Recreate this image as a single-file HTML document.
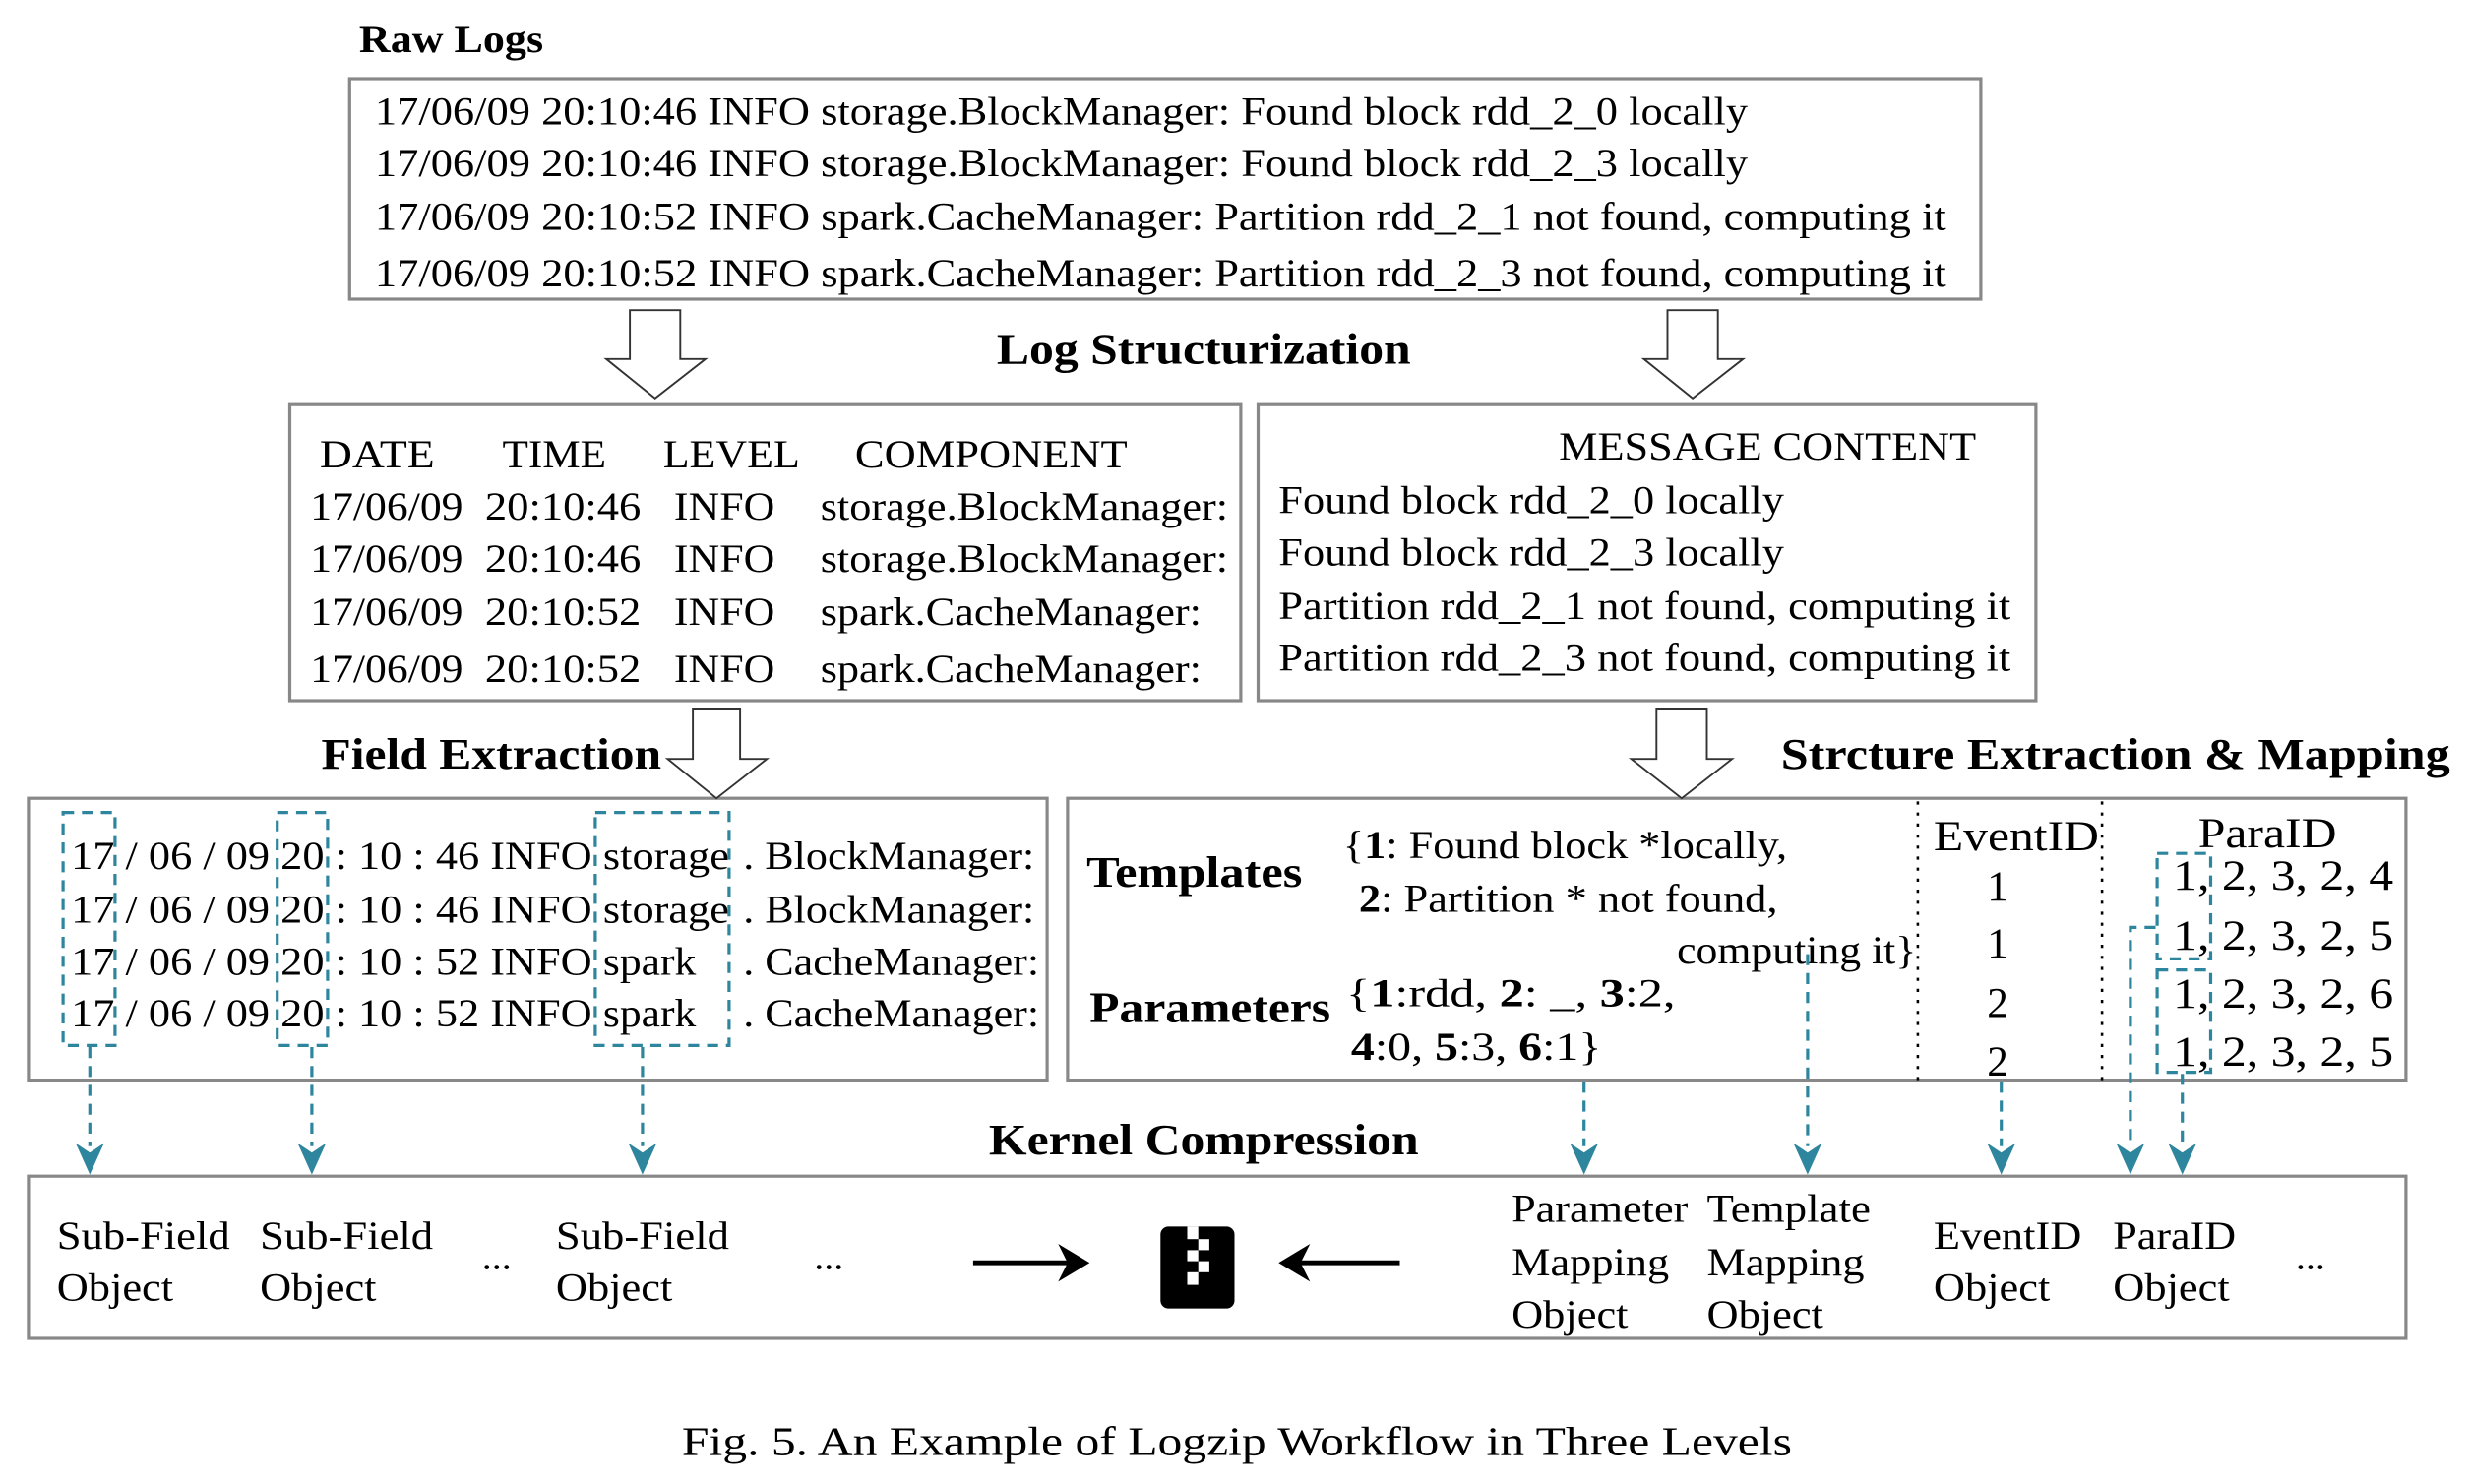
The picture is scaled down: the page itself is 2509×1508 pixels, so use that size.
<!DOCTYPE html>
<html><head><meta charset="utf-8"><style>
html,body{margin:0;padding:0;background:#fff;}
svg{display:block;}
text{font-family:"Liberation Serif",serif;fill:#000;}
.b{font-weight:bold;}
</style></head><body>
<svg width="2509" height="1508" viewBox="0 0 1568 942.5" xmlns="http://www.w3.org/2000/svg">
<defs>
<g id="ah"><polygon points="-9,-20 0,-14 9,-20 0,0" fill="#2e869e"/></g>
</defs>
<g fill="none" stroke="#888" stroke-width="2">
<rect x="222" y="50" width="1036" height="140"/>
<rect x="184" y="257" width="604" height="188"/>
<rect x="799" y="257" width="494" height="188"/>
<rect x="18" y="507" width="647" height="179"/>
<rect x="678" y="507" width="850" height="179"/>
<rect x="18" y="747" width="1510" height="103"/>
</g>
<!-- hollow arrows -->
<g fill="#fff" stroke="#333" stroke-width="1.2">
<polygon points="400,197 432,197 432,228 448,228 416,253 385,228 400,228"/>
<polygon points="1059,197 1091,197 1091,228 1107,228 1075,253 1044,228 1059,228"/>
<polygon points="440,450 470,450 470,482 487,482 455,507 424,482 440,482"/>
<polygon points="1052,450 1084,450 1084,482 1100,482 1068,507 1036,482 1052,482"/>
</g>
<!-- labels -->
<g class="b" font-size="25">
<text x="228" y="33" textLength="117" lengthAdjust="spacingAndGlyphs" font-weight="bold">Raw Logs</text>
<text x="633" y="231" textLength="263" lengthAdjust="spacingAndGlyphs" font-size="28" font-weight="bold">Log Structurization</text>
<text x="204" y="488" textLength="216" lengthAdjust="spacingAndGlyphs" font-size="28" font-weight="bold">Field Extraction</text>
<text x="1131" y="488" textLength="425" lengthAdjust="spacingAndGlyphs" font-size="28" font-weight="bold">Strcture Extraction &amp; Mapping</text>
<text x="628" y="733" textLength="273" lengthAdjust="spacingAndGlyphs" font-size="28" font-weight="bold">Kernel Compression</text>
<text x="690" y="563" textLength="137" lengthAdjust="spacingAndGlyphs" font-size="28" font-weight="bold">Templates</text>
<text x="692" y="649" textLength="153" lengthAdjust="spacingAndGlyphs" font-size="28" font-weight="bold">Parameters</text>
</g>
<g font-size="25" lengthAdjust="spacingAndGlyphs">
<text x="238" y="79" textLength="872" lengthAdjust="spacingAndGlyphs">17/06/09 20:10:46 INFO storage.BlockManager: Found block rdd_2_0 locally</text>
<text x="238" y="112" textLength="872" lengthAdjust="spacingAndGlyphs">17/06/09 20:10:46 INFO storage.BlockManager: Found block rdd_2_3 locally</text>
<text x="238" y="146" textLength="998" lengthAdjust="spacingAndGlyphs">17/06/09 20:10:52 INFO spark.CacheManager: Partition rdd_2_1 not found, computing it</text>
<text x="238" y="182" textLength="998" lengthAdjust="spacingAndGlyphs">17/06/09 20:10:52 INFO spark.CacheManager: Partition rdd_2_3 not found, computing it</text>

<text x="203" y="297" textLength="73" lengthAdjust="spacingAndGlyphs">DATE</text>
<text x="319" y="297" textLength="66" lengthAdjust="spacingAndGlyphs">TIME</text>
<text x="421" y="297" textLength="87" lengthAdjust="spacingAndGlyphs">LEVEL</text>
<text x="543" y="297" textLength="173" lengthAdjust="spacingAndGlyphs">COMPONENT</text>
<g>
<text x="197" y="330" textLength="97" lengthAdjust="spacingAndGlyphs">17/06/09</text><text x="308" y="330" textLength="99" lengthAdjust="spacingAndGlyphs">20:10:46</text><text x="428" y="330" textLength="64" lengthAdjust="spacingAndGlyphs">INFO</text><text x="521" y="330" textLength="259" lengthAdjust="spacingAndGlyphs">storage.BlockManager:</text>
<text x="197" y="363" textLength="97" lengthAdjust="spacingAndGlyphs">17/06/09</text><text x="308" y="363" textLength="99" lengthAdjust="spacingAndGlyphs">20:10:46</text><text x="428" y="363" textLength="64" lengthAdjust="spacingAndGlyphs">INFO</text><text x="521" y="363" textLength="259" lengthAdjust="spacingAndGlyphs">storage.BlockManager:</text>
<text x="197" y="397" textLength="97" lengthAdjust="spacingAndGlyphs">17/06/09</text><text x="308" y="397" textLength="99" lengthAdjust="spacingAndGlyphs">20:10:52</text><text x="428" y="397" textLength="64" lengthAdjust="spacingAndGlyphs">INFO</text><text x="521" y="397" textLength="242" lengthAdjust="spacingAndGlyphs">spark.CacheManager:</text>
<text x="197" y="433" textLength="97" lengthAdjust="spacingAndGlyphs">17/06/09</text><text x="308" y="433" textLength="99" lengthAdjust="spacingAndGlyphs">20:10:52</text><text x="428" y="433" textLength="64" lengthAdjust="spacingAndGlyphs">INFO</text><text x="521" y="433" textLength="242" lengthAdjust="spacingAndGlyphs">spark.CacheManager:</text>
</g>
<text x="990" y="292" textLength="265" lengthAdjust="spacingAndGlyphs">MESSAGE CONTENT</text>
<text x="812" y="326" textLength="321" lengthAdjust="spacingAndGlyphs">Found block rdd_2_0 locally</text>
<text x="812" y="359" textLength="321" lengthAdjust="spacingAndGlyphs">Found block rdd_2_3 locally</text>
<text x="812" y="393" textLength="465" lengthAdjust="spacingAndGlyphs">Partition rdd_2_1 not found, computing it</text>
<text x="812" y="426" textLength="465" lengthAdjust="spacingAndGlyphs">Partition rdd_2_3 not found, computing it</text>

<text x="45" y="552" textLength="331" lengthAdjust="spacingAndGlyphs">17 / 06 / 09 20 : 10 : 46 INFO</text><text x="383" y="552" textLength="80" lengthAdjust="spacingAndGlyphs">storage</text><text x="472" y="552" textLength="185" lengthAdjust="spacingAndGlyphs">. BlockManager:</text>
<text x="45" y="586" textLength="331" lengthAdjust="spacingAndGlyphs">17 / 06 / 09 20 : 10 : 46 INFO</text><text x="383" y="586" textLength="80" lengthAdjust="spacingAndGlyphs">storage</text><text x="472" y="586" textLength="185" lengthAdjust="spacingAndGlyphs">. BlockManager:</text>
<text x="45" y="619" textLength="331" lengthAdjust="spacingAndGlyphs">17 / 06 / 09 20 : 10 : 52 INFO</text><text x="383" y="619" textLength="59" lengthAdjust="spacingAndGlyphs">spark</text><text x="472" y="619" textLength="188" lengthAdjust="spacingAndGlyphs">. CacheManager:</text>
<text x="45" y="652" textLength="331" lengthAdjust="spacingAndGlyphs">17 / 06 / 09 20 : 10 : 52 INFO</text><text x="383" y="652" textLength="59" lengthAdjust="spacingAndGlyphs">spark</text><text x="472" y="652" textLength="188" lengthAdjust="spacingAndGlyphs">. CacheManager:</text>

<text x="853" y="545" textLength="282" lengthAdjust="spacingAndGlyphs">{<tspan font-weight="bold">1</tspan>: Found block *locally,</text>
<text x="863" y="579" textLength="266" lengthAdjust="spacingAndGlyphs"><tspan font-weight="bold">2</tspan>: Partition * not found,</text>
<text x="1065" y="612" textLength="152" lengthAdjust="spacingAndGlyphs">computing it}</text>
<text x="855" y="639" textLength="209" lengthAdjust="spacingAndGlyphs">{<tspan font-weight="bold">1</tspan>:rdd,   <tspan font-weight="bold">2</tspan>: _,    <tspan font-weight="bold">3</tspan>:2,</text>
<text x="858" y="673" textLength="159" lengthAdjust="spacingAndGlyphs"><tspan font-weight="bold">4</tspan>:0,  <tspan font-weight="bold">5</tspan>:3,  <tspan font-weight="bold">6</tspan>:1}</text>

<text x="1228" y="540" font-size="27" textLength="105" lengthAdjust="spacingAndGlyphs">EventID</text>
<text x="1262" y="572" font-size="27">1</text>
<text x="1262" y="608" font-size="27">1</text>
<text x="1262" y="646" font-size="27">2</text>
<text x="1262" y="683" font-size="27">2</text>
<text x="1396" y="538" font-size="27" textLength="88" lengthAdjust="spacingAndGlyphs">ParaID</text>
<text x="1380" y="565" font-size="27" textLength="140" lengthAdjust="spacingAndGlyphs">1, 2, 3, 2, 4</text>
<text x="1380" y="603" font-size="27" textLength="140" lengthAdjust="spacingAndGlyphs">1, 2, 3, 2, 5</text>
<text x="1380" y="640" font-size="27" textLength="140" lengthAdjust="spacingAndGlyphs">1, 2, 3, 2, 6</text>
<text x="1380" y="677" font-size="27" textLength="140" lengthAdjust="spacingAndGlyphs">1, 2, 3, 2, 5</text>

<text x="36" y="793" textLength="110" lengthAdjust="spacingAndGlyphs">Sub-Field</text><text x="36" y="826" textLength="74" lengthAdjust="spacingAndGlyphs">Object</text>
<text x="165" y="793" textLength="110" lengthAdjust="spacingAndGlyphs">Sub-Field</text><text x="165" y="826" textLength="74" lengthAdjust="spacingAndGlyphs">Object</text>
<text x="353" y="793" textLength="110" lengthAdjust="spacingAndGlyphs">Sub-Field</text><text x="353" y="826" textLength="74" lengthAdjust="spacingAndGlyphs">Object</text>
<text x="306" y="806">...</text><text x="517" y="806">...</text><text x="1458" y="806">...</text>
<text x="960" y="776" textLength="112" lengthAdjust="spacingAndGlyphs">Parameter</text><text x="960" y="810" textLength="100" lengthAdjust="spacingAndGlyphs">Mapping</text><text x="960" y="843" textLength="74" lengthAdjust="spacingAndGlyphs">Object</text>
<text x="1084" y="776" textLength="104" lengthAdjust="spacingAndGlyphs">Template</text><text x="1084" y="810" textLength="100" lengthAdjust="spacingAndGlyphs">Mapping</text><text x="1084" y="843" textLength="74" lengthAdjust="spacingAndGlyphs">Object</text>
<text x="1228" y="793" textLength="94" lengthAdjust="spacingAndGlyphs">EventID</text><text x="1228" y="826" textLength="74" lengthAdjust="spacingAndGlyphs">Object</text>
<text x="1342" y="793" textLength="78" lengthAdjust="spacingAndGlyphs">ParaID</text><text x="1342" y="826" textLength="74" lengthAdjust="spacingAndGlyphs">Object</text>

<text x="433" y="924" font-size="26" textLength="705" lengthAdjust="spacingAndGlyphs">Fig. 5.  An Example of Logzip Workflow in Three Levels</text>
</g>
<!-- dotted separators -->
<g stroke="#000" stroke-width="1.6" stroke-dasharray="2,5">
<line x1="1218" y1="509" x2="1218" y2="686"/>
<line x1="1335" y1="509" x2="1335" y2="686"/>
</g>
<!-- teal dashed -->
<g fill="none" stroke="#2e869e" stroke-width="2" stroke-dasharray="7,5">
<rect x="40" y="516" width="33" height="148"/>
<rect x="176" y="516" width="32" height="148"/>
<rect x="378" y="516" width="85" height="148"/>
<rect x="1370" y="542" width="34" height="67"/>
<rect x="1370" y="616" width="34" height="65"/>
<line x1="57" y1="665" x2="57" y2="728"/>
<line x1="198" y1="665" x2="198" y2="728"/>
<line x1="408" y1="665" x2="408" y2="728"/>
<line x1="1006" y1="687" x2="1006" y2="728"/>
<line x1="1148" y1="606" x2="1148" y2="728"/>
<line x1="1271" y1="687" x2="1271" y2="728"/>
<polyline points="1369,589 1353,589 1353,728"/>
<line x1="1386" y1="682" x2="1386" y2="728"/>
</g>
<use href="#ah" x="57" y="746"/><use href="#ah" x="198" y="746"/><use href="#ah" x="408" y="746"/>
<use href="#ah" x="1006" y="746"/><use href="#ah" x="1148" y="746"/><use href="#ah" x="1271" y="746"/>
<use href="#ah" x="1353" y="746"/><use href="#ah" x="1386" y="746"/>
<!-- black arrows -->
<g stroke="#000" stroke-width="3"><line x1="618" y1="802" x2="680" y2="802"/><line x1="889" y1="802" x2="824" y2="802"/></g>
<polygon points="692,802 672,790 678,802 672,814" fill="#000"/>
<polygon points="812,802 832,790 826,802 832,814" fill="#000"/>
<!-- zip icon -->
<rect x="737" y="779" width="47" height="52" rx="5" fill="#000"/>
<g fill="#fff">
<rect x="754" y="779" width="7" height="8"/>
<rect x="761" y="787" width="7" height="7"/>
<rect x="754" y="794" width="7" height="7"/>
<rect x="761" y="801" width="7" height="7"/>
<rect x="754" y="808" width="7" height="8"/>
</g>
</svg>
</body></html>
